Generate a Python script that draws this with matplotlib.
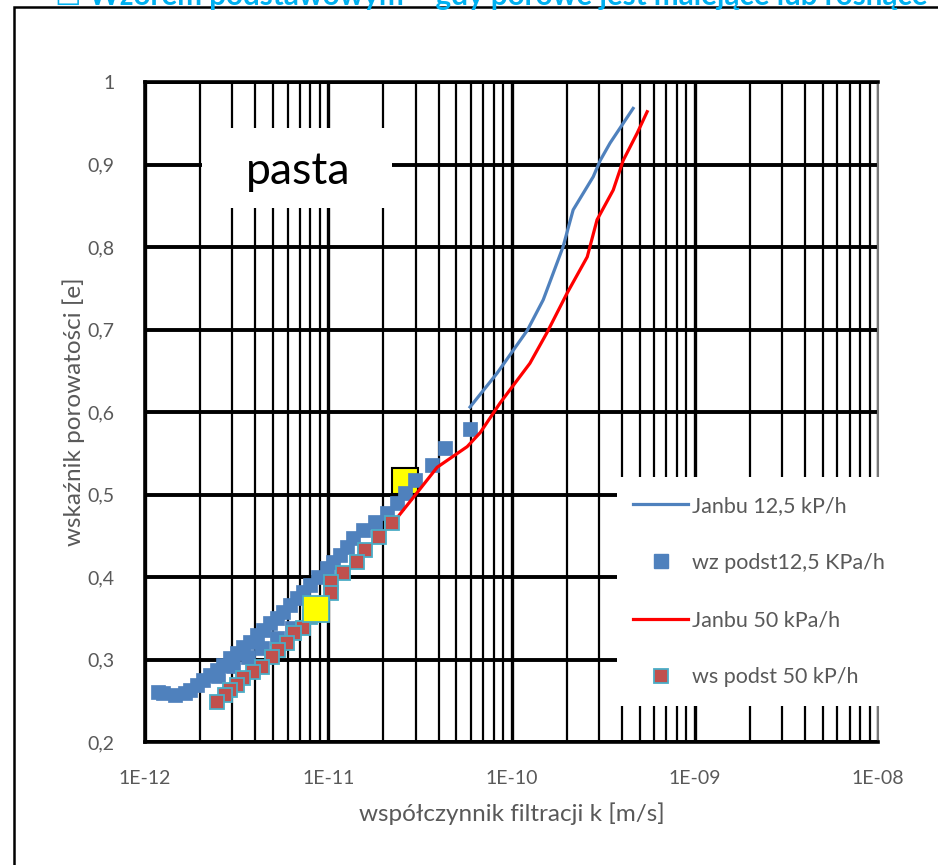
import numpy as np
import matplotlib
matplotlib.use('Agg')
import matplotlib.pyplot as plt
from matplotlib.lines import Line2D
from matplotlib.patches import Rectangle
from matplotlib.ticker import FixedLocator, LogLocator, NullFormatter

plt.rcParams['font.family'] = ['Lato', 'DejaVu Sans']

# Janbu 12,5 kP/h (linia niebieska)
k_janbu_125 = [5.94e-11, 8.34e-11, 1.22e-10, 1.49e-10, 1.91e-10, 2.17e-10,
               2.79e-10, 3.05e-10, 3.45e-10, 4.61e-10]
e_janbu_125 = [0.606, 0.647, 0.699, 0.736, 0.800, 0.845, 0.885, 0.905, 0.926, 0.968]

# Janbu 50 kPa/h (linia czerwona)
k_janbu_50 = [2.40e-11, 3.05e-11, 3.93e-11, 5.73e-11, 6.75e-11, 8.67e-11, 1.26e-10,
              1.56e-10, 2.01e-10, 2.59e-10, 2.93e-10, 3.59e-10, 4.07e-10, 4.85e-10, 5.50e-10]
e_janbu_50 = [0.473, 0.502, 0.533, 0.558, 0.575, 0.611, 0.659, 0.696, 0.744, 0.788,
              0.833, 0.869, 0.905, 0.938, 0.964]

# wz podst 12,5 KPa/h (punkty niebieskie), log10(k)
logk_wz = [-10.226, -10.362, -10.433, -10.526, -10.581, -10.624, -10.679, -10.745,
           -10.810, -10.865, -10.897, -10.936, -10.974, -11.007, -11.056, -11.099,
           -11.138, -11.170, -11.209, -11.247, -11.280, -11.318, -11.356, -11.389,
           -11.427, -11.465, -11.498, -11.536, -11.574, -11.607, -11.645, -11.683,
           -11.716, -11.754, -11.782, -11.836, -11.902, -11.929,
           -11.60, -11.52, -11.44, -11.36, -11.28, -11.20]
e_wz = [0.579, 0.556, 0.536, 0.518, 0.502, 0.490, 0.478, 0.467, 0.457, 0.447, 0.436,
        0.427, 0.418, 0.411, 0.400, 0.390, 0.382, 0.375, 0.366, 0.358, 0.350, 0.344,
        0.336, 0.330, 0.321, 0.315, 0.308, 0.302, 0.293, 0.287, 0.281, 0.275, 0.269,
        0.263, 0.259, 0.257, 0.259, 0.261,
        0.280, 0.292, 0.303, 0.314, 0.326, 0.338]

# ws podst 50 kP/h (punkty czerwone), log10(k)
logk_ws = [-10.652, -10.723, -10.799, -10.843, -10.919, -10.985, -10.985, -11.056,
           -11.099, -11.138, -11.187, -11.225, -11.274, -11.307, -11.361, -11.410,
           -11.465, -11.498, -11.536, -11.563, -11.607]
e_ws = [0.465, 0.448, 0.433, 0.418, 0.405, 0.394, 0.381, 0.367, 0.352, 0.338, 0.332,
        0.320, 0.312, 0.303, 0.291, 0.285, 0.278, 0.269, 0.263, 0.257, 0.248]

# wyróżnione punkty (żółte)
k_yel1, e_yel1 = 2.62e-11, 0.516
k_yel2, e_yel2 = 8.57e-12, 0.361

x_ticks = [1e-12, 1e-11, 1e-10, 1e-9, 1e-8]
x_labels = ['1E-12', '1E-11', '1E-10', '1E-09', '1E-08']
y_ticks = [0.2, 0.3, 0.4, 0.5, 0.6, 0.7, 0.8, 0.9, 1.0]
y_labels = ['0,2', '0,3', '0,4', '0,5', '0,6', '0,7', '0,8', '0,9', '1']

W, H = 938, 865
fig = plt.figure(figsize=(W / 100, H / 100), dpi=100)
ax = fig.add_axes([145 / W, 1 - 742 / H, (878 - 145) / W, (742 - 82) / H])

blue = '#4F81BD'
gray = '#595959'

ax.plot(k_yel1, e_yel1, 's', ms=18.5, mfc='#FFFF00', mec='black', mew=1.5, zorder=3)
ax.plot(k_janbu_125, e_janbu_125, '-', color=blue, lw=2.3, zorder=4)
ax.plot(10 ** np.array(logk_wz), e_wz, 's', ms=10.5, mfc=blue, mec=blue, mew=0.5, zorder=5)
ax.plot(k_janbu_50, e_janbu_50, '-', color='#FF0000', lw=2.3, zorder=6)
ax.plot(10 ** np.array(logk_ws), e_ws, 's', ms=9.5, mfc='#C0504D', mec='#4BACC6', mew=1.3, zorder=7)
ax.plot(k_yel2, e_yel2, 's', ms=19, mfc='#FFFF00', mec='#4BACC6', mew=1.3, zorder=8)

ax.set_xscale('log')
ax.set_xlim(1e-12, 1e-8)
ax.set_ylim(0.2, 1.0)
ax.xaxis.set_major_locator(FixedLocator(x_ticks))
ax.set_xticklabels(x_labels)
ax.xaxis.set_minor_locator(LogLocator(base=10, subs=np.arange(2, 10)))
ax.xaxis.set_minor_formatter(NullFormatter())
ax.set_yticks(y_ticks)
ax.set_yticklabels(y_labels)
ax.tick_params(which='both', length=0, labelsize=14, labelcolor=gray)
ax.tick_params(axis='x', pad=20)
ax.tick_params(axis='y', pad=22)

ax.set_axisbelow(True)
ax.grid(which='major', axis='x', color='black', lw=2.4)
ax.grid(which='minor', axis='x', color='black', lw=1.6)
ax.grid(which='major', axis='y', color='black', lw=2.8)
for s in ['left', 'bottom', 'top']:
    ax.spines[s].set_linewidth(2.6)
ax.spines['right'].set_linewidth(1.5)
ax.spines['right'].set_color('#777777')

ax.set_xlabel('współczynnik filtracji k [m/s]', fontsize=17.5, color=gray, labelpad=11)
ax.set_ylabel('wskaźnik porowatości [e]', fontsize=17.5, color=gray)
ax.yaxis.set_label_coords((85 - 145) / 733, 0.5)

# pole z napisem "pasta"
ax.add_patch(Rectangle(((202 - 145) / 733, (742 - 208) / 660), 190 / 733, 80 / 660,
                       transform=ax.transAxes, facecolor='white', edgecolor='none', zorder=2))
ax.text((298 - 145) / 733, (742 - 172) / 660, 'pasta', transform=ax.transAxes,
        fontsize=32, ha='center', va='center', color='black', zorder=2.5)

# tło legendy
ax.add_patch(Rectangle(((617 - 145) / 733, (742 - 706) / 660), 263 / 733, 229 / 660,
                       transform=ax.transAxes, facecolor='white', edgecolor='none',
                       zorder=9, clip_on=False))
handles = [
    Line2D([], [], color=blue, lw=2.3),
    Line2D([], [], ls='none', marker='s', ms=10.5, mfc=blue, mec=blue),
    Line2D([], [], color='#FF0000', lw=2.3),
    Line2D([], [], ls='none', marker='s', ms=9.5, mfc='#C0504D', mec='#4BACC6', mew=1.3),
]
labels = ['Janbu 12,5 kP/h', 'wz podst12,5 KPa/h', 'Janbu 50 kPa/h', 'ws podst 50 kP/h']
leg = ax.legend(handles, labels, loc='upper left', bbox_to_anchor=(633 / W, 1 - 496 / H),
                bbox_transform=fig.transFigure, frameon=False, fontsize=15.5, borderpad=0,
                handlelength=2.56, handletextpad=0.19, labelspacing=1.72, borderaxespad=0)
for t in leg.get_texts():
    t.set_color(gray)
leg.set_zorder(10)

# ramka wykresu i obcięty nagłówek
fig.add_artist(Rectangle((14 / W, -0.05), 1.1, 1 - 7 / H + 0.05, transform=fig.transFigure,
                         facecolor='none', edgecolor='black', lw=1.8, clip_on=False))
fig.text(55 / W, 1 - 5 / H, '☐ Wzorem podstawowym – gdy porowe jest malejące lub rosnące',
         fontsize=21.3, fontweight='bold', color='#00B0F0', va='baseline', ha='left')

fig.savefig('out.png', dpi=100)
